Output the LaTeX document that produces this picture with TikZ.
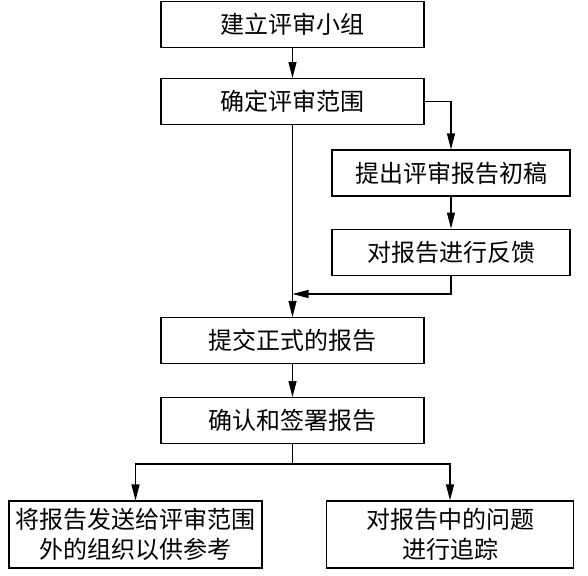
\documentclass[tikz,border=0pt]{standalone}
\usepackage{fontspec}
\newfontfamily\cjk{Noto Sans CJK SC}
\usetikzlibrary{arrows.meta,positioning}

\begin{document}
\begin{tikzpicture}[
    x=1pt, y=1pt,
    node distance=30pt and 30pt,
    box/.style={rectangle, draw, line width=1.1pt, minimum width=263pt, minimum height=46pt, inner sep=2pt, align=center, font=\cjk\fontsize{24}{30}\selectfont},
    subbox/.style={box, minimum width=238pt},
    endbox/.style={box, minimum height=67pt},
    arrow/.style={-{Triangle[length=16pt, width=8pt]}, line width=1.1pt},
    line/.style={line width=1.1pt}
]
\useasboundingbox (0,0) rectangle (588,-575);

\node[box] (team) at (292.5,-24.5) {建立评审小组};
\node[box, below=30pt of team] (scope) {确定评审范围};
\node[subbox] (draft) at (451,-173) {提出评审报告初稿};
\node[subbox, below=32pt of draft] (feedback) {对报告进行反馈};
\node[box] (submit) at (292.5,-340.5) {提交正式的报告};
\node[box, below=33pt of submit] (sign) {确认和签署报告};
\node[endbox, minimum width=253pt] (send) at (135.5,-534.5) {将报告发送给评审范围\\外的组织以供参考};
\node[endbox, minimum width=247pt] (track) at (450,-534.5) {对报告中的问题\\进行追踪};

\coordinate (merge) at (scope.south |- 0,-294);
\coordinate (split) at (sign.south |- 0,-464);

\draw[arrow] (team) -- (scope);
\draw[arrow] (scope.east) -| (draft.north);
\draw[arrow] (draft) -- (feedback);
\draw[arrow] (feedback.south) |- (merge);
\draw[arrow] (scope.south) -- (submit.north);
\draw[arrow] (submit) -- (sign);
\draw[line] (sign.south) -- (split);
\draw[arrow] (split) -| (send.north);
\draw[arrow] (split) -| (track.north);
\end{tikzpicture}
\end{document}
